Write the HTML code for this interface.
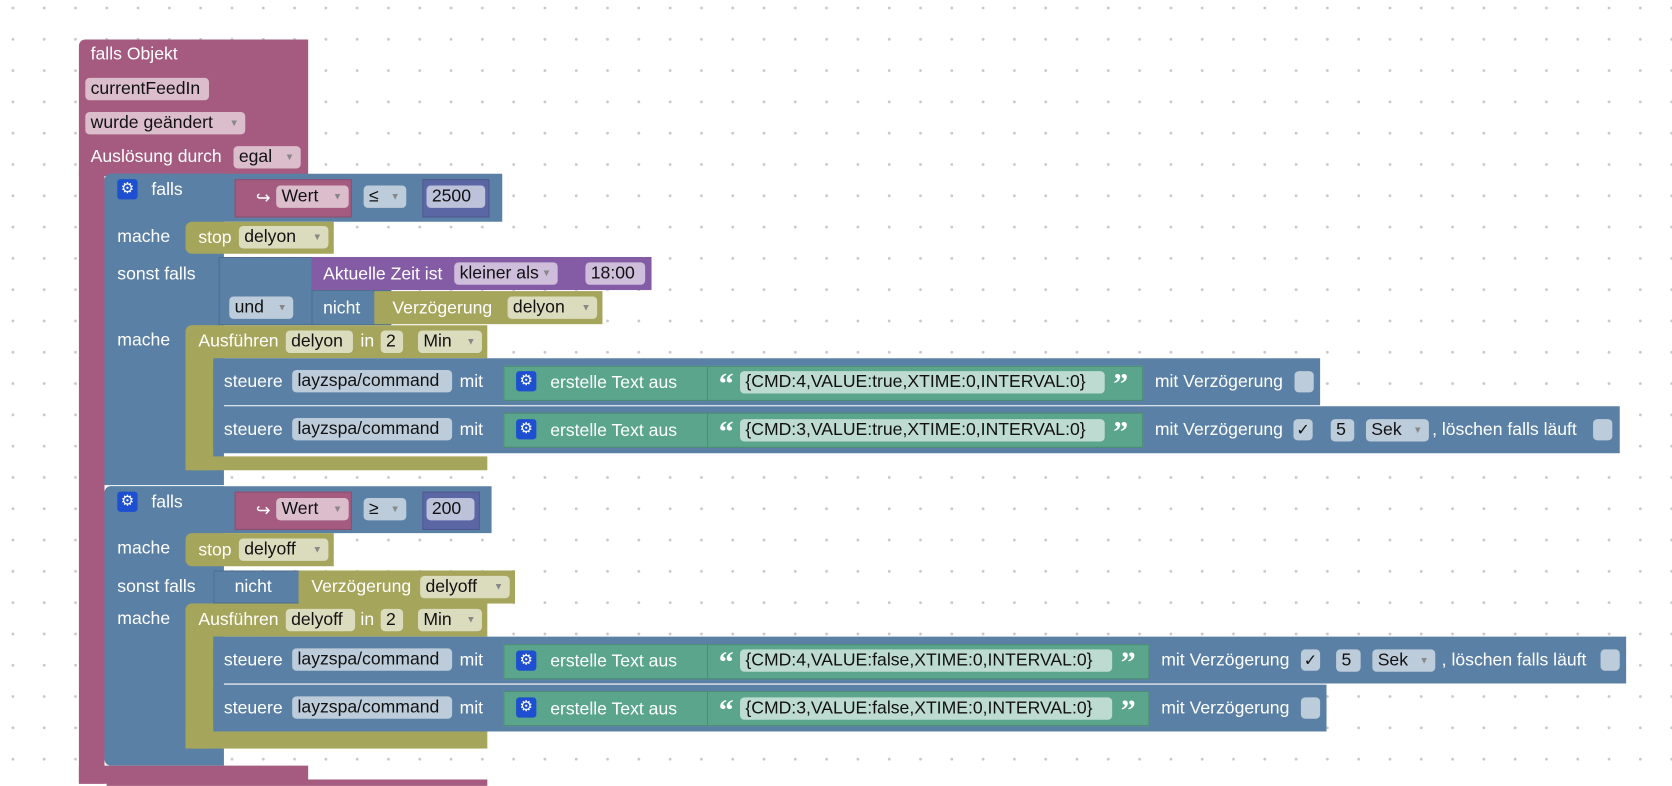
<!DOCTYPE html>
<html><head><meta charset="utf-8"><style>
html,body{margin:0;padding:0;}
body{width:1672px;height:784px;overflow:hidden;background:#fff;
background-image:radial-gradient(circle,#c8c8c8 1.3px,transparent 1.6px);
background-size:31.3px 31.3px;background-position:-2.75px -7.65px;font-family:"Liberation Sans",Arial,sans-serif;}
#s{position:absolute;left:0;top:0;width:1568px;height:735px;transform:scale(1.06633);transform-origin:0 0;}
.b{position:absolute;}
.pk{background:#a55b80;}
.bl{background:#5b80a5;}
.ol{background:#a5a55b;}
.gr{background:#5ba58c;}
.pu{background:#845ba5;}
.nb{background:#5b67a5;}
.t{position:absolute;color:#fff;font-size:16.5px;line-height:18px;white-space:nowrap;}
.f{position:absolute;height:21px;line-height:21px;font-size:16.5px;color:#111;border-radius:4px;padding-left:5px;box-sizing:border-box;white-space:nowrap;background:rgba(255,255,255,0.6);}
.f i{font-style:normal;font-size:9px;color:#888;position:absolute;right:6px;top:0;}
.g{position:absolute;width:19px;height:19px;background:#1d4fd0;border-radius:3px;color:#fff;font-size:14px;line-height:19px;text-align:center;font-family:"DejaVu Sans",sans-serif;}
.bd{box-shadow:inset 0 0 0 1px rgba(0,0,0,0.15);}
.q{position:absolute;color:#fff;font-size:28px;font-weight:bold;line-height:22px;font-family:"Liberation Serif",serif;}
.cb{position:absolute;width:18px;height:20px;border-radius:4px;background:rgba(255,255,255,0.6);color:#111;font-size:15px;line-height:20px;text-align:center;font-family:"DejaVu Sans",sans-serif;}
</style></head><body><div id="s">

<div class="b pk" style="left:74px;top:37px;width:215px;height:128px;border-radius:6px 0 0 0"></div>
<div class="b pk" style="left:74px;top:160px;width:24px;height:575px"></div>
<div class="b pk" style="left:74px;top:718px;width:215px;height:17px"></div>
<div class="b pk" style="left:100px;top:731px;width:357px;height:6px"></div>
<span class="t" style="left:85px;top:42px">falls Objekt</span>
<div class="f" style="left:80px;top:73px;width:116px">currentFeedIn</div>
<div class="f" style="left:80px;top:105px;width:150px">wurde geändert<i>▼</i></div>
<span class="t" style="left:85px;top:138px">Auslösung durch</span>
<div class="f" style="left:219px;top:137px;width:63px">egal<i>▼</i></div>

<div class="b bl" style="left:98px;top:163px;width:373px;height:45px;border-radius:6px 0 0 0"></div>
<div class="b bl" style="left:98px;top:163px;width:112px;height:292px;border-radius:6px 0 0 0"></div>
<div class="g" style="left:110px;top:168px">⚙</div>
<span class="t" style="left:142px;top:169px">falls</span>
<div class="b pk bd" style="left:220px;top:168px;width:110px;height:36px"></div>
<span class="t" style="left:240px;top:177px">↪</span>
<div class="f" style="left:259px;top:174px;width:68px">Wert<i>▼</i></div>
<div class="f" style="left:341px;top:174px;width:40px">≤<i>▼</i></div>
<div class="b nb bd" style="left:396px;top:168px;width:63px;height:36px"></div>
<div class="f" style="left:400px;top:174px;width:55px">2500</div>
<span class="t" style="left:110px;top:213px">mache</span>
<div class="b ol" style="left:174px;top:208px;width:139px;height:30px;border-radius:6px 0 0 6px"></div>
<span class="t" style="left:186px;top:214px">stop</span>
<div class="f" style="left:224px;top:212px;width:84px">delyon<i>▼</i></div>
<span class="t" style="left:110px;top:248px">sonst falls</span>
<div class="b bl bd" style="left:205px;top:241px;width:90px;height:64px"></div>
<div class="f" style="left:215px;top:278px;width:60px">und<i>▼</i></div>
<div class="b pu" style="left:292px;top:241px;width:319px;height:31px"></div>
<span class="t" style="left:303px;top:248px">Aktuelle Zeit ist</span>
<div class="f" style="left:426px;top:246px;width:97px">kleiner als<i>▼</i></div>
<div class="f" style="left:549px;top:246px;width:56px">18:00</div>
<div class="b bl bd" style="left:292px;top:272px;width:75px;height:33px"></div>
<span class="t" style="left:303px;top:280px">nicht</span>
<div class="b ol" style="left:351px;top:273px;width:214px;height:31px"></div>
<span class="t" style="left:368px;top:280px">Verzögerung</span>
<div class="f" style="left:476px;top:278px;width:84px">delyon<i>▼</i></div>
<span class="t" style="left:110px;top:310px">mache</span>
<div class="b ol" style="left:174px;top:305px;width:283px;height:31px;border-radius:6px 0 0 0"></div>
<div class="b ol" style="left:174px;top:305px;width:26px;height:136px;border-radius:6px 0 0 6px"></div>
<div class="b ol" style="left:174px;top:428px;width:283px;height:13px"></div>
<span class="t" style="left:186px;top:311px">Ausführen</span>
<div class="f" style="left:268px;top:310px;width:63px">delyon</div>
<span class="t" style="left:338px;top:311px">in</span>
<div class="f" style="left:357px;top:310px;width:21px">2</div>
<div class="f" style="left:392px;top:310px;width:60px">Min<i>▼</i></div>
<div class="b bl" style="left:200px;top:336px;width:1038px;height:44px;border-radius:6px 0 0 0"></div>
<span class="t" style="left:210px;top:349px">steuere</span>
<div class="f" style="left:274px;top:347px;width:150px">layzspa/command</div>
<span class="t" style="left:431px;top:349px">mit</span>
<div class="b gr bd" style="left:472px;top:343px;width:600px;height:33px"></div>
<div class="g" style="left:484px;top:348px">⚙</div>
<span class="t" style="left:516px;top:350px">erstelle Text aus</span>
<div class="b gr bd" style="left:663px;top:343px;width:409px;height:33px"></div>
<span class="q" style="left:674px;top:350px">“</span>
<div class="f" style="left:694px;top:348px;width:342px">{CMD:4,VALUE:true,XTIME:0,INTERVAL:0}</div>
<span class="q" style="left:1044px;top:350px">”</span>
<span class="t" style="left:1083px;top:349px">mit Verzögerung</span>
<div class="cb" style="left:1214px;top:348px"></div>
<div class="b bl" style="left:200px;top:381px;width:1319px;height:44px;border-radius:0 0 0 6px"></div>
<span class="t" style="left:210px;top:394px">steuere</span>
<div class="f" style="left:274px;top:392px;width:150px">layzspa/command</div>
<span class="t" style="left:431px;top:394px">mit</span>
<div class="b gr bd" style="left:472px;top:387px;width:600px;height:33px"></div>
<div class="g" style="left:484px;top:393px">⚙</div>
<span class="t" style="left:516px;top:395px">erstelle Text aus</span>
<div class="b gr bd" style="left:663px;top:387px;width:409px;height:33px"></div>
<span class="q" style="left:674px;top:395px">“</span>
<div class="f" style="left:694px;top:393px;width:342px">{CMD:3,VALUE:true,XTIME:0,INTERVAL:0}</div>
<span class="q" style="left:1044px;top:395px">”</span>
<span class="t" style="left:1083px;top:394px">mit Verzögerung</span>
<div class="cb" style="left:1213px;top:393px">✓</div>
<div class="f" style="left:1248px;top:393px;width:22px">5</div>
<div class="f" style="left:1281px;top:393px;width:59px">Sek<i>▼</i></div>
<span class="t" style="left:1343px;top:394px">, löschen falls läuft</span>
<div class="cb" style="left:1494px;top:393px"></div>

<div class="b bl" style="left:98px;top:456px;width:363px;height:44px;border-radius:6px 0 0 0"></div>
<div class="b bl" style="left:98px;top:456px;width:112px;height:262px;border-radius:6px 0 0 6px"></div>
<div class="g" style="left:110px;top:461px">⚙</div>
<span class="t" style="left:142px;top:462px">falls</span>
<div class="b pk bd" style="left:220px;top:461px;width:110px;height:36px"></div>
<span class="t" style="left:240px;top:470px">↪</span>
<div class="f" style="left:259px;top:467px;width:68px">Wert<i>▼</i></div>
<div class="f" style="left:341px;top:467px;width:40px">≥<i>▼</i></div>
<div class="b nb bd" style="left:396px;top:461px;width:54px;height:36px"></div>
<div class="f" style="left:400px;top:467px;width:45px">200</div>
<span class="t" style="left:110px;top:505px">mache</span>
<div class="b ol" style="left:174px;top:500px;width:139px;height:31px;border-radius:6px 0 0 6px"></div>
<span class="t" style="left:186px;top:507px">stop</span>
<div class="f" style="left:224px;top:505px;width:84px">delyoff<i>▼</i></div>
<span class="t" style="left:110px;top:541px">sonst falls</span>
<div class="b bl bd" style="left:200px;top:535px;width:85px;height:31px"></div>
<span class="t" style="left:220px;top:541px">nicht</span>
<div class="b ol" style="left:280px;top:535px;width:203px;height:31px"></div>
<span class="t" style="left:292px;top:541px">Verzögerung</span>
<div class="f" style="left:394px;top:540px;width:84px">delyoff<i>▼</i></div>
<span class="t" style="left:110px;top:571px">mache</span>
<div class="b ol" style="left:174px;top:566px;width:283px;height:31px;border-radius:6px 0 0 0"></div>
<div class="b ol" style="left:174px;top:566px;width:26px;height:136px;border-radius:6px 0 0 6px"></div>
<div class="b ol" style="left:174px;top:686px;width:283px;height:16px"></div>
<span class="t" style="left:186px;top:572px">Ausführen</span>
<div class="f" style="left:268px;top:571px;width:65px">delyoff</div>
<span class="t" style="left:338px;top:572px">in</span>
<div class="f" style="left:357px;top:571px;width:21px">2</div>
<div class="f" style="left:392px;top:571px;width:60px">Min<i>▼</i></div>
<div class="b bl" style="left:200px;top:597px;width:1325px;height:44px;border-radius:6px 0 0 0"></div>
<span class="t" style="left:210px;top:610px">steuere</span>
<div class="f" style="left:274px;top:608px;width:150px">layzspa/command</div>
<span class="t" style="left:431px;top:610px">mit</span>
<div class="b gr bd" style="left:472px;top:604px;width:606px;height:33px"></div>
<div class="g" style="left:484px;top:610px">⚙</div>
<span class="t" style="left:516px;top:611px">erstelle Text aus</span>
<div class="b gr bd" style="left:663px;top:604px;width:415px;height:33px"></div>
<span class="q" style="left:674px;top:611px">“</span>
<div class="f" style="left:694px;top:609px;width:349px">{CMD:4,VALUE:false,XTIME:0,INTERVAL:0}</div>
<span class="q" style="left:1051px;top:611px">”</span>
<span class="t" style="left:1089px;top:610px">mit Verzögerung</span>
<div class="cb" style="left:1220px;top:609px">✓</div>
<div class="f" style="left:1253px;top:609px;width:23px">5</div>
<div class="f" style="left:1287px;top:609px;width:59px">Sek<i>▼</i></div>
<span class="t" style="left:1352px;top:610px">, löschen falls läuft</span>
<div class="cb" style="left:1501px;top:609px"></div>
<div class="b bl" style="left:200px;top:642px;width:1044px;height:44px;border-radius:0 0 0 6px"></div>
<span class="t" style="left:210px;top:655px">steuere</span>
<div class="f" style="left:274px;top:653px;width:150px">layzspa/command</div>
<span class="t" style="left:431px;top:655px">mit</span>
<div class="b gr bd" style="left:472px;top:648px;width:606px;height:33px"></div>
<div class="g" style="left:484px;top:654px">⚙</div>
<span class="t" style="left:516px;top:656px">erstelle Text aus</span>
<div class="b gr bd" style="left:663px;top:648px;width:415px;height:33px"></div>
<span class="q" style="left:674px;top:656px">“</span>
<div class="f" style="left:694px;top:654px;width:349px">{CMD:3,VALUE:false,XTIME:0,INTERVAL:0}</div>
<span class="q" style="left:1051px;top:656px">”</span>
<span class="t" style="left:1089px;top:655px">mit Verzögerung</span>
<div class="cb" style="left:1220px;top:654px"></div>

</div></body></html>
